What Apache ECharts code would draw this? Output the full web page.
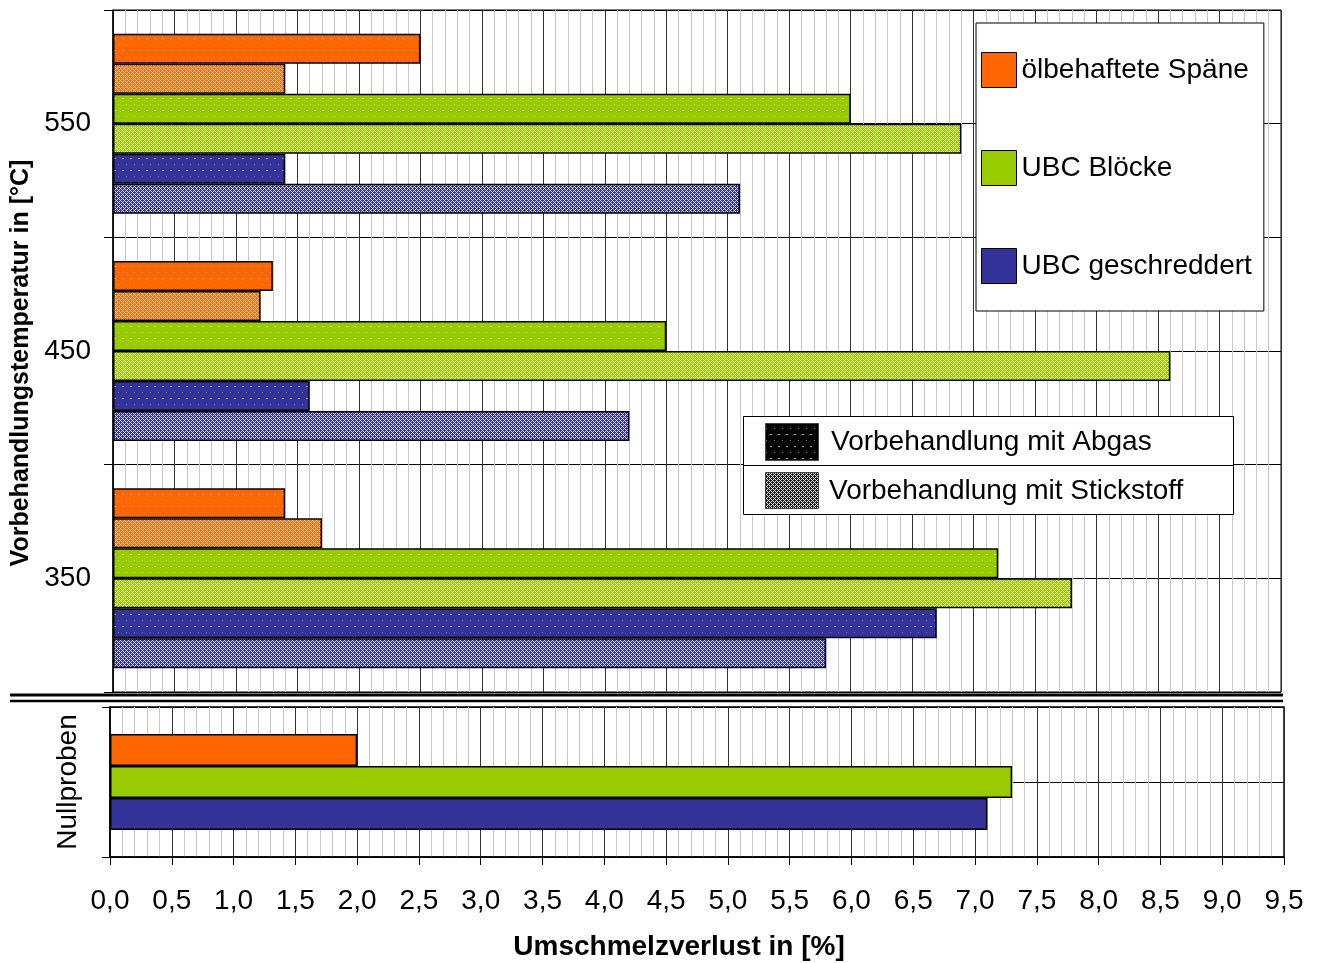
<!DOCTYPE html>
<html>
<head>
<meta charset="utf-8">
<script src="https://cdn.jsdelivr.net/npm/echarts@6/dist/echarts.min.js"></script>
<style>
html,body{margin:0;padding:0;background:#fff;}
#chart{width:1319px;height:963px;}
</style>
</head>
<body>
<div id="chart"></div>
<script>
// ---- data ----
const categories = ['550', '450', '350'];
const oilAbgas    = [2.5, 1.3, 1.4];
const oilN2       = [1.4, 1.2, 1.7];
const blockAbgas  = [6.0, 4.5, 7.2];
const blockN2     = [6.9, 8.6, 7.8];
const shredAbgas  = [1.4, 1.6, 6.7];
const shredN2     = [5.1, 4.2, 5.8];
const nullCategories = ['Nullproben'];
const nullOil   = [2.0];
const nullBlock = [7.3];
const nullShred = [7.1];
const materialNames = ['ölbehaftete Späne', 'UBC Blöcke', 'UBC geschreddert'];
const treatmentNames = ['Vorbehandlung mit Abgas', 'Vorbehandlung mit Stickstoff'];
const xAxisTitle = 'Umschmelzverlust in [%]';
const yAxisTitle = 'Vorbehandlungstemperatur in [°C]';

// ---- styles ----
const FONT = 'Liberation Sans, Arial, sans-serif';
const ORANGE = '#FF6600', GREEN = '#99CC00', BLUE = '#333399';

function mix(hex, t) {
  const r = parseInt(hex.substr(1,2),16), g = parseInt(hex.substr(3,2),16), b = parseInt(hex.substr(5,2),16);
  const f = c => Math.round(c + (255 - c) * t);
  return 'rgb(' + f(r) + ',' + f(g) + ',' + f(b) + ')';
}
function dotPattern(base, strength) {
  const s = strength || 0.5;
  const c = document.createElement('canvas');
  c.width = 8; c.height = 12;
  const ctx = c.getContext('2d');
  ctx.fillStyle = base; ctx.fillRect(0, 0, 8, 12);
  ctx.fillStyle = mix(base, s);
  ctx.fillRect(2, 2, 2, 1);
  ctx.fillStyle = mix(base, s * 0.6);
  ctx.fillRect(6, 8, 1, 1);
  return { image: c, repeat: 'repeat' };
}
function latticePattern(base, light) {
  const c = document.createElement('canvas');
  c.width = 4; c.height = 4;
  const ctx = c.getContext('2d');
  ctx.fillStyle = base; ctx.fillRect(0, 0, 4, 4);
  ctx.fillStyle = light || mix(base, 0.8);
  for (let y = 0; y < 4; y++) for (let x = 0; x < 4; x++) {
    if ((x + y) % 4 === 0 || (x - y + 4) % 4 === 0) ctx.fillRect(x, y, 1, 1);
  }
  return { image: c, repeat: 'repeat' };
}

const chart = echarts.init(document.getElementById('chart'), null, { renderer: 'canvas' });

function topSeries(name, data, fill) {
  return {
    name: name, type: 'bar', xAxisIndex: 0, yAxisIndex: 0, data: data,
    barWidth: 30, barGap: '0%',
    itemStyle: { color: fill, borderColor: '#000', borderWidth: 1.5 },
    emphasis: { disabled: true }, z: 3
  };
}
function nullSeries(name, data, color) {
  return {
    name: name, type: 'bar', xAxisIndex: 1, yAxisIndex: 2, data: data,
    barWidth: 32, barGap: '0%',
    itemStyle: { color: color, borderColor: '#000', borderWidth: 1.5 },
    emphasis: { disabled: true }, z: 3
  };
}

const xFmt = v => v.toFixed(1).replace('.', ',');

const option = {
  animation: false,
  backgroundColor: '#fff',
  textStyle: { fontFamily: FONT },
  grid: [
    { left: 113, top: 10, width: 1168, height: 682, show: true, borderColor: '#000', borderWidth: 1 },
    { left: 110, top: 707, width: 1174, height: 150, show: true, borderColor: '#000', borderWidth: 1.5 }
  ],
  xAxis: [
    {
      gridIndex: 0, type: 'value', min: 0, max: 9.5, interval: 0.5,
      axisLabel: { show: false }, axisTick: { show: false }, axisLine: { show: false },
      splitLine: { show: true, lineStyle: { color: '#333', width: 1 } },
      minorTick: { show: false, splitNumber: 5 },
      minorSplitLine: { show: true, lineStyle: { color: '#c8c8c8', width: 1 } }
    },
    {
      gridIndex: 1, type: 'value', min: 0, max: 9.5, interval: 0.5,
      axisLabel: { show: true, formatter: xFmt, fontSize: 28, color: '#000', fontFamily: FONT, margin: 30 },
      axisTick: { show: true, length: 8, lineStyle: { color: '#000', width: 1 } },
      axisLine: { show: true, lineStyle: { color: '#000', width: 1.5 } },
      splitLine: { show: true, lineStyle: { color: '#333', width: 1 } },
      minorTick: { show: false, splitNumber: 5 },
      minorSplitLine: { show: true, lineStyle: { color: '#c8c8c8', width: 1 } },
      name: xAxisTitle, nameLocation: 'middle', nameGap: 76,
      nameTextStyle: { fontSize: 28, fontWeight: 'bold', color: '#000', fontFamily: FONT, padding: [0, 36, 0, 0] }
    }
  ],
  yAxis: [
    {
      gridIndex: 0, type: 'category', data: categories, inverse: true,
      axisLine: { show: true, lineStyle: { color: '#000', width: 1.5 } },
      axisTick: { show: true, length: 9, lineStyle: { color: '#000', width: 1 } },
      axisLabel: { fontSize: 28, color: '#000', fontFamily: FONT, margin: 22, padding: [5, 0, 0, 0] },
      splitLine: { show: false },
      name: yAxisTitle, nameLocation: 'middle', nameGap: 78, nameRotate: 90,
      nameTextStyle: { fontSize: 25, fontWeight: 'bold', color: '#000', fontFamily: FONT, padding: [0, 24, 0, 0] }
    },
    {
      gridIndex: 0, type: 'value', min: 0, max: 6, interval: 1, position: 'right',
      axisLabel: { show: false }, axisTick: { show: false }, axisLine: { show: false },
      splitLine: { show: true, lineStyle: { color: '#000', width: 1 } }
    },
    {
      gridIndex: 1, type: 'category', data: nullCategories, inverse: true,
      axisLine: { show: true, lineStyle: { color: '#000', width: 1.5 } },
      axisTick: { show: true, length: 8, lineStyle: { color: '#000', width: 1 } },
      axisLabel: { fontSize: 28, color: '#000', fontFamily: FONT, rotate: 90, margin: 28 },
      splitLine: { show: false }
    },
    {
      gridIndex: 1, type: 'value', min: 0, max: 2, interval: 1, position: 'right',
      axisLabel: { show: false }, axisTick: { show: false }, axisLine: { show: false },
      splitLine: { show: true, lineStyle: { color: '#000', width: 1 } }
    }
  ],
  legend: {
    data: materialNames, orient: 'vertical', left: 976, top: 23,
    itemWidth: 35, itemHeight: 35, itemGap: 62, icon: 'rect',
    backgroundColor: '#fff', borderColor: '#000', borderWidth: 1,
    padding: [29, 12, 27, 5], selectedMode: false,
    textStyle: { fontSize: 28, color: '#000', fontFamily: FONT, padding: [4, 0, 0, 0] },
    itemStyle: { borderColor: '#000', borderWidth: 1 }, z: 10
  },
  series: [
    topSeries(materialNames[0] + ' – ' + treatmentNames[0], oilAbgas, dotPattern(ORANGE)),
    topSeries(materialNames[0] + ' – ' + treatmentNames[1], oilN2, latticePattern(ORANGE)),
    topSeries(materialNames[1] + ' – ' + treatmentNames[0], blockAbgas, dotPattern(GREEN)),
    topSeries(materialNames[1] + ' – ' + treatmentNames[1], blockN2, latticePattern(GREEN)),
    topSeries(materialNames[2] + ' – ' + treatmentNames[0], shredAbgas, dotPattern(BLUE)),
    topSeries(materialNames[2] + ' – ' + treatmentNames[1], shredN2, latticePattern(BLUE)),
    nullSeries(materialNames[0], nullOil, ORANGE),
    nullSeries(materialNames[1], nullBlock, GREEN),
    nullSeries(materialNames[2], nullShred, BLUE)
  ],
  graphic: [
    // broken-axis double line
    { type: 'line', z: 50, shape: { x1: 10, y1: 695, x2: 1283, y2: 695 }, style: { stroke: '#000', lineWidth: 3 } },
    { type: 'line', z: 50, shape: { x1: 10, y1: 701, x2: 1283, y2: 701 }, style: { stroke: '#000', lineWidth: 2.5 } },
    // treatment legend
    { type: 'rect', z: 60, shape: { x: 743.5, y: 416.5, width: 490, height: 49 }, style: { fill: '#fff', stroke: '#000', lineWidth: 1 } },
    { type: 'rect', z: 60, shape: { x: 743.5, y: 465.5, width: 490, height: 49 }, style: { fill: '#fff', stroke: '#000', lineWidth: 1 } },
    { type: 'rect', z: 61, shape: { x: 765.5, y: 423.5, width: 53, height: 37 }, style: { fill: dotPattern('#000000', 0.7), stroke: '#444', lineWidth: 1 } },
    { type: 'rect', z: 61, shape: { x: 765.5, y: 472.5, width: 53, height: 36 }, style: { fill: latticePattern('#222222', '#dddddd'), stroke: '#444', lineWidth: 1 } },
    { type: 'text', z: 61, x: 831, y: 442, style: { text: treatmentNames[0], font: '28px ' + FONT, fill: '#000', verticalAlign: 'middle' } },
    { type: 'text', z: 61, x: 829, y: 491, style: { text: treatmentNames[1], font: '28px ' + FONT, fill: '#000', verticalAlign: 'middle' } }
  ]
};
chart.setOption(option);
</script>
</body>
</html>
